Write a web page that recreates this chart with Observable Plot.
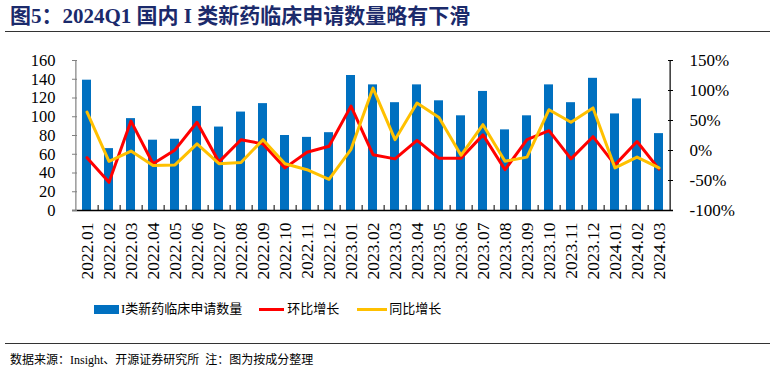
<!DOCTYPE html>
<html><head><meta charset="utf-8">
<script src="https://cdn.jsdelivr.net/npm/d3@7"></script>
<script src="https://cdn.jsdelivr.net/npm/@observablehq/plot@0.6"></script>
<style>
body{margin:0;background:#fff;}
#wrap{position:relative;width:774px;height:376px;overflow:hidden;font-family:"Liberation Serif","Noto Sans CJK SC",serif;color:#000;}
#title{position:absolute;left:10px;top:3px;font-size:21px;font-weight:bold;color:#1B2A6B;white-space:nowrap;line-height:26px;}
.hr{position:absolute;left:5px;width:765px;height:0;border-top:1.5px solid #333;}
#chart{position:absolute;left:0;top:40px;}
#legend{position:absolute;left:94px;top:299px;display:flex;align-items:center;font-size:13px;font-family:"Liberation Serif","Noto Sans CJK SC",serif;white-space:nowrap;line-height:20px;}
#legend .sw{display:inline-block;}
#footer{position:absolute;left:10px;top:350px;font-size:12px;white-space:nowrap;line-height:20px;}
</style></head>
<body>
<div id="wrap">
  <div id="title">图5：2024Q1 国内 I 类新药临床申请数量略有下滑</div>
  <div class="hr" style="top:31px"></div>
  <div id="chart"></div>
  <div id="legend">
    <span class="sw" style="width:25px;height:9px;background:#0070C0;margin-right:2px"></span><span>I类新药临床申请数量</span>
    <span class="sw" style="width:25px;height:3px;background:#FF0000;margin-left:17px;margin-right:3px"></span><span>环比增长</span>
    <span class="sw" style="width:30px;height:3px;background:#FFC000;margin-left:18px;margin-right:2px"></span><span>同比增长</span>
  </div>
  <div class="hr" style="top:343px"></div>
  <div id="footer">数据来源：Insight、开源证券研究所&nbsp; 注：图为按成分整理</div>
</div>
<script>
const months = ["2022.01","2022.02","2022.03","2022.04","2022.05","2022.06","2022.07","2022.08","2022.09","2022.10","2022.11","2022.12",
  "2023.01","2023.02","2023.03","2023.04","2023.05","2023.06","2023.07","2023.08","2023.09","2023.10","2023.11","2023.12",
  "2024.01","2024.02","2024.03"];
const counts = [139,66,98,75,76,111,89,105,114,80,78,83,144,134,115,134,117,101,127,86,101,134,115,141,103,119,82];
const mom = [-12,-53,49,-22,1,47,-19,18,11,-29,-3,7,74,-7,-14,17,-13,-13,26,-32,18,33,-14,23,-24,15,-31];
const yoy = [64,-18,-1,-25,-24,11,-22,-20,18,-22,-32,-48,2,104,18,79,55,-8,43,-18,-11,68,47,71,-29,-11,-29];
const leftTicks = [0,20,40,60,80,100,120,140,160];
const rightTicks = [-100,-50,0,50,100,150];

const yMax = 160, pMin = -100, pMax = 150;
const toLeft = p => (p - pMin) * yMax / (pMax - pMin);

const data = months.map((m, i) => ({month: m, count: counts[i], mom: mom[i], yoy: yoy[i]}));

const W = 774, H = 250, mL = 72, mR = 101, mT = 20, mB = 80;
const plotW = W - mL - mR, plotH = H - mT - mB;
const step = plotW / months.length;

const chart = Plot.plot({
  width: W, height: H, marginTop: mT, marginBottom: mB, marginLeft: mL, marginRight: mR,
  x: {domain: months, paddingInner: 0.6, paddingOuter: 0.3, label: null},
  y: {domain: [0, yMax], label: null},
  style: {fontFamily: "Liberation Serif, serif", fontSize: "16px", color: "#000", background: "#fff"},
  marks: [
    Plot.barY(data, {x: "month", y: "count", fill: "#0070C0"}),
    Plot.line(data, {x: "month", y: d => toLeft(d.mom), stroke: "#FF0000", strokeWidth: 3}),
    Plot.line(data, {x: "month", y: d => toLeft(d.yoy), stroke: "#FFC000", strokeWidth: 3}),
    Plot.ruleY([0], {stroke: "#000", strokeWidth: 1.5}),
    Plot.ruleX([months[0]], {x: d => d, dx: -step / 2, stroke: "#808080", strokeWidth: 1.2}),
    Plot.ruleX([months[months.length - 1]], {x: d => d, dx: step / 2, stroke: "#000", strokeWidth: 1.2}),
    Plot.ruleX(months.slice(0, -1), {x: d => d, dx: step / 2, insetTop: plotH - 5, stroke: "#000"}),
    Plot.ruleY(leftTicks, {y: d => d, insetRight: plotW - 5, stroke: "#808080"}),
    Plot.ruleY(rightTicks.map(toLeft), {y: d => d, insetLeft: plotW - 5, stroke: "#000"}),
    Plot.axisY(leftTicks, {anchor: "left", tickSize: 0, tickPadding: 17, fontSize: 16.5, label: null}),
    Plot.axisY(rightTicks.map(toLeft), {anchor: "right", tickSize: 0, tickPadding: 16, fontSize: 17, label: null,
      tickFormat: v => `${Math.round(v * (pMax - pMin) / yMax + pMin)}%`}),
    Plot.axisX({anchor: "bottom", tickSize: 0, tickPadding: 12, tickRotate: -90, fontSize: 17.5, label: null})
  ]
});
document.getElementById("chart").appendChild(chart);
</script>
</body></html>
